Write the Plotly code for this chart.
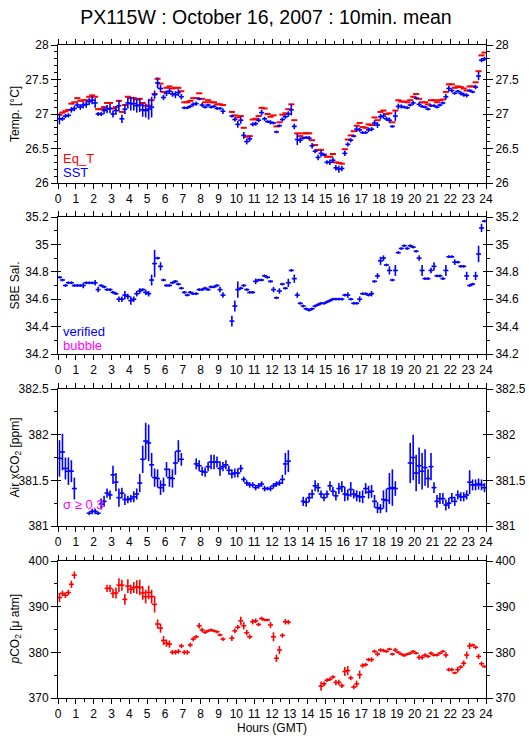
import plotly.graph_objects as go

# ---------------- data (10-min means, 144 slots per day) ----------------
N = None
HOURS = [i / 6 + 1 / 12 for i in range(144)]
HOUR_TICKS = list(range(25))

SST = [
    26.93, 26.93, 26.97, 26.98, 27.06, 27.08,
    27.13, 27.10, 27.13, 27.14, 27.18, 27.20,
    27.16, 27.00, 27.00, 27.05, 27.07, 27.08,
    27.00, 27.05, 27.12, 26.93, 27.07, 27.16,
    27.15, 27.15, 27.12, 27.13, 27.06, 27.05,
    27.07, 27.10, 27.28, 27.45, 27.37, 27.24,
    27.30, 27.33, 27.29, 27.28, 27.31, 27.25,
    27.09, 27.09, 27.11, 27.14, 27.15, 27.22,
    27.13, 27.10, 27.13, 27.10, 27.11, 27.08,
    27.08, 27.04, N, N, 26.97, 26.92,
    26.85, 26.91, 26.69, 26.60, 26.64, 26.85,
    26.86, 26.91, 27.02, 26.93, 26.89, 26.88,
    26.87, 26.74, 26.83, 26.92, 26.96, 27.00,
    27.06, 26.82, 26.63, 26.62, 26.65, 26.66,
    26.65, 26.54, 26.46, 26.37, 26.43, 26.41,
    26.30, 26.30, 26.33, 26.22, 26.20, 26.21,
    26.43, 26.56, 26.62, 26.68, 26.78, 26.77,
    26.73, 26.73, 26.77, 26.78, 26.87, 26.84,
    26.96, 26.97, 26.93, 26.91, 26.82, 26.97,
    27.11, 27.11, 27.10, 27.09, 27.13, 27.16,
    27.23, 27.14, 27.11, 27.10, 27.07, 27.12,
    27.12, 27.10, 27.13, 27.16, 27.25, 27.37,
    27.34, 27.30, 27.33, 27.30, 27.28, 27.27,
    27.34, 27.32, 27.39, 27.55, 27.78, 27.80,
]
SST_SD = [
    0.08, 0.03, 0.03, 0.03, 0.04, 0.04,
    0.04, 0.04, 0.05, 0.05, 0.05, 0.06,
    0.07, 0.03, 0.03, 0.05, 0.06, 0.07,
    0.05, 0.06, 0.08, 0.06, 0.07, 0.08,
    0.10, 0.10, 0.10, 0.10, 0.10, 0.10,
    0.15, 0.15, 0.06, 0.08, 0.05, 0.04,
    0.04, 0.04, 0.04, 0.05, 0.05, 0.04,
    0.02, 0.02, 0.02, 0.03, 0.03, 0.02,
    0.03, 0.02, 0.02, 0.02, 0.02, 0.02,
    0.02, 0.04, N, N, 0.02, 0.03,
    0.05, 0.05, 0.05, 0.04, 0.04, 0.03,
    0.03, 0.03, 0.04, 0.03, 0.02, 0.03,
    0.02, 0.02, 0.02, 0.03, 0.03, 0.04,
    0.08, 0.04, 0.08, 0.04, 0.02, 0.02,
    0.03, 0.04, 0.03, 0.04, 0.05, 0.02,
    0.03, 0.04, 0.04, 0.04, 0.05, 0.04,
    0.04, 0.03, 0.03, 0.02, 0.04, 0.03,
    0.02, 0.02, 0.03, 0.03, 0.04, 0.04,
    0.04, 0.04, 0.03, 0.04, 0.02, 0.07,
    0.04, 0.03, 0.02, 0.02, 0.02, 0.03,
    0.02, 0.03, 0.02, 0.02, 0.02, 0.02,
    0.02, 0.02, 0.02, 0.02, 0.04, 0.04,
    0.03, 0.02, 0.02, 0.03, 0.03, 0.03,
    0.02, 0.02, 0.03, 0.06, 0.03, 0.03,
]
EQ_T = [
    26.99, 27.02, 27.04, 27.06, 27.15, 27.17,
    27.23, 27.19, 27.20, 27.20, 27.25, 27.27,
    27.25, 27.07, 27.07, 27.10, 27.16, 27.16,
    27.08, 27.10, 27.19, 27.03, 27.13, 27.25,
    27.23, 27.23, 27.21, 27.22, 27.16, 27.12,
    27.12, 27.20, 27.29, 27.51, 27.44, 27.32,
    27.38, 27.40, 27.37, 27.38, 27.38, 27.33,
    27.17, 27.17, 27.19, 27.23, 27.23, 27.30,
    27.22, 27.17, 27.20, 27.17, 27.17, 27.14,
    27.14, 27.13, N, N, 27.03, 26.98,
    26.95, 26.97, 26.80, 26.67, 26.68, 26.92,
    26.93, 26.97, 27.09, 27.08, 27.00, 26.96,
    26.98, 26.82, 26.88, 26.99, 27.01, 27.07,
    27.14, 26.91, 26.72, 26.68, 26.72, 26.72,
    26.72, 26.62, 26.55, 26.48, 26.48, 26.41,
    26.38, 26.38, 26.42, 26.30, 26.29, 26.28,
    26.49, 26.63, 26.69, 26.75, 26.83, 26.87,
    26.81, 26.80, 26.85, 26.84, 26.95, 26.91,
    27.03, 27.05, 27.00, 27.01, 26.88, 27.05,
    27.20, 27.18, 27.18, 27.17, 27.20, 27.25,
    27.29, 27.22, 27.17, 27.17, 27.14, 27.20,
    27.20, 27.17, 27.20, 27.21, 27.32, 27.43,
    27.43, 27.38, 27.40, 27.39, 27.37, 27.34,
    27.40, 27.40, 27.46, 27.62, 27.85, 27.89,
]
SAL = [
    34.76, 34.74, 34.70, 34.72, 34.72, 34.70,
    34.70, 34.70, 34.70, 34.72, 34.72, 34.72,
    34.72, 34.67, 34.70, 34.69, 34.67, 34.67,
    34.65, 34.64, 34.60, 34.60, 34.63, 34.62,
    34.59, 34.60, 34.64, 34.66, 34.67, 34.65,
    34.64, 34.74, 34.86, 34.90, 34.84, 34.74,
    34.70, 34.70, 34.72, 34.73, 34.71, 34.68,
    34.65, 34.63, 34.65, 34.64, 34.64, 34.67,
    34.67, 34.68, 34.67, 34.69, 34.69, 34.70,
    34.67, 34.63, N, N, 34.44, 34.55,
    34.67, 34.68, 34.70, 34.67, 34.65, 34.65,
    34.73, 34.74, 34.74, 34.77, 34.76, 34.73,
    34.67, 34.61, 34.66, 34.71, 34.68, 34.72,
    34.81, 34.75, 34.63, 34.57, 34.55, 34.53,
    34.52, 34.53, 34.55, 34.56, 34.57, 34.57,
    34.58, 34.59, 34.60, 34.60, 34.60, 34.60,
    34.63, 34.63, 34.60, 34.57, 34.57, 34.60,
    34.64, 34.64, 34.63, 34.64, 34.73, 34.77,
    34.88, 34.90, 34.85, 34.81, 34.74, 34.81,
    34.94, 34.97, 34.99, 34.97, 34.99, 34.98,
    34.95, 34.90, 34.81, 34.75, 34.75, 34.81,
    34.84, 34.77, 34.77, 34.75, 34.81, 34.91,
    34.91, 34.87, 34.87, 34.84, 34.84, 34.77,
    34.70, 34.71, 34.77, 34.93, 35.12, 35.17,
]
SAL_SD = [
    0.01, 0.01, 0.01, 0.01, 0.01, 0.01,
    0.01, 0.01, 0.02, 0.01, 0.01, 0.01,
    0.02, 0.02, 0.01, 0.01, 0.01, 0.01,
    0.01, 0.01, 0.02, 0.02, 0.03, 0.02,
    0.03, 0.02, 0.02, 0.02, 0.01, 0.02,
    0.02, 0.04, 0.10, 0.01, 0.03, 0.01,
    0.01, 0.01, 0.01, 0.01, 0.01, 0.01,
    0.01, 0.01, 0.01, 0.01, 0.01, 0.01,
    0.01, 0.01, 0.01, 0.01, 0.01, 0.01,
    0.02, 0.02, N, N, 0.04, 0.04,
    0.06, 0.01, 0.01, 0.01, 0.01, 0.01,
    0.02, 0.01, 0.01, 0.01, 0.01, 0.01,
    0.02, 0.01, 0.02, 0.01, 0.01, 0.03,
    0.01, 0.03, 0.02, 0.01, 0.01, 0.01,
    0.01, 0.01, 0.01, 0.01, 0.01, 0.01,
    0.01, 0.01, 0.01, 0.01, 0.01, 0.01,
    0.01, 0.02, 0.01, 0.01, 0.01, 0.02,
    0.01, 0.01, 0.01, 0.02, 0.01, 0.02,
    0.03, 0.02, 0.01, 0.03, 0.01, 0.04,
    0.01, 0.01, 0.01, 0.01, 0.01, 0.01,
    0.01, 0.02, 0.04, 0.01, 0.01, 0.02,
    0.03, 0.01, 0.01, 0.01, 0.04, 0.01,
    0.01, 0.02, 0.01, 0.01, 0.01, 0.03,
    0.01, 0.01, 0.03, 0.06, 0.03, 0.01,
]
XCO2 = [
    381.74, 381.81, 381.63, 381.60, 381.60, 381.41,
    N, N, N, N, 381.14, 381.16,
    381.16, 381.14, 381.24, 381.27, 381.36, 381.34,
    381.56, 381.48, 381.31, 381.36, 381.29, 381.29,
    381.30, 381.32, 381.35, 381.47, 381.73, 381.93,
    381.91, 381.67, 381.53, 381.52, 381.42, 381.45,
    381.62, 381.53, 381.52, 381.69, 381.82, 381.73,
    N, N, N, N, 381.68, 381.66,
    381.60, 381.59, 381.65, 381.70, 381.70, 381.70,
    381.63, 381.65, 381.67, 381.61, 381.57, 381.58,
    381.58, 381.63, 381.51, 381.47, 381.45, 381.45,
    381.42, 381.44, 381.46, 381.41, 381.41, 381.41,
    381.44, 381.46, 381.47, 381.51, 381.68, 381.71,
    N, N, N, N, 381.27, 381.26,
    381.31, 381.35, 381.44, 381.42, 381.35, 381.31,
    381.35, 381.44, 381.38, 381.33, 381.41, 381.43,
    381.35, 381.34, 381.40, 381.35, 381.33, 381.32,
    381.32, 381.41, 381.37, 381.38, 381.27, 381.20,
    381.19, 381.29, 381.28, 381.41, 381.42, 381.41,
    N, N, N, N, 381.69, 381.75,
    381.58, 381.66, 381.60, 381.64, 381.52, 381.65,
    381.42, 381.27, 381.30, 381.30, 381.23, 381.25,
    381.31, 381.27, 381.34, 381.32, 381.32, 381.34,
    381.48, 381.45, 381.45, 381.46, 381.45, 381.42,
]
XCO2_SD = [
    0.20, 0.20, 0.12, 0.15, 0.12, 0.12,
    N, N, N, N, 0.02, 0.03,
    0.03, 0.02, 0.06, 0.06, 0.05, 0.05,
    0.10, 0.10, 0.10, 0.06, 0.06, 0.04,
    0.04, 0.06, 0.06, 0.10, 0.15, 0.20,
    0.20, 0.13, 0.10, 0.10, 0.08, 0.08,
    0.08, 0.10, 0.10, 0.13, 0.12, 0.07,
    N, N, N, N, 0.06, 0.06,
    0.05, 0.05, 0.05, 0.08, 0.08, 0.06,
    0.08, 0.05, 0.05, 0.05, 0.05, 0.05,
    0.05, 0.04, 0.03, 0.03, 0.03, 0.03,
    0.03, 0.03, 0.03, 0.03, 0.02, 0.03,
    0.03, 0.03, 0.03, 0.05, 0.12, 0.12,
    N, N, N, N, 0.05, 0.05,
    0.05, 0.05, 0.06, 0.05, 0.04, 0.04,
    0.04, 0.05, 0.05, 0.05, 0.06, 0.06,
    0.08, 0.06, 0.08, 0.05, 0.06, 0.06,
    0.07, 0.06, 0.07, 0.07, 0.07, 0.06,
    0.05, 0.10, 0.13, 0.17, 0.20, 0.08,
    N, N, N, N, 0.22, 0.25,
    0.20, 0.20, 0.20, 0.20, 0.10, 0.15,
    0.06, 0.07, 0.06, 0.06, 0.06, 0.06,
    0.05, 0.05, 0.05, 0.05, 0.05, 0.05,
    0.13, 0.06, 0.06, 0.06, 0.06, 0.05,
]
PCO2 = [
    392.0, 392.9, 392.5, 393.1, 394.9, 396.9,
    N, N, N, N, N, N,
    N, N, N, N, 394.0, 394.0,
    392.9, 393.0, 394.7, 394.7, 391.6, 394.5,
    393.8, 394.2, 394.3, 394.2, 393.0, 392.2,
    393.1, 392.2, 390.5, 386.2, 385.3, 382.6,
    382.0, 381.8, 380.0, 380.0, 380.2, 381.4,
    380.0, 380.0, 381.6, 382.9, 383.4, 385.8,
    384.9, 384.4, 384.7, 384.9, 384.7, 384.5,
    383.8, 382.9, N, N, 383.1, 384.7,
    385.5, 386.9, 385.8, 384.3, 383.4, 386.7,
    386.9, 386.1, 387.4, 387.1, 387.1, 386.0,
    383.4, 378.7, 380.5, 383.7, 386.7, 386.6,
    N, N, N, N, N, N,
    N, N, N, N, 372.6, 373.1,
    373.9, 374.1, 374.6, 373.4, 373.4, 372.7,
    375.8, 376.0, 374.4, 372.4, 373.1, 375.1,
    377.1, 377.3, 378.4, 378.4, 380.2, 379.6,
    380.5, 380.4, 380.2, 380.7, 379.6, 380.5,
    380.0, 379.6, 379.3, 379.6, 379.8, 380.2,
    379.8, 378.9, 378.9, 379.4, 379.1, 379.8,
    379.4, 379.4, 379.8, 380.2, 379.4, 376.2,
    376.2, 375.5, 376.2, 376.8, 377.6, 379.4,
    381.4, 381.6, 381.1, 379.1, 377.5, 376.9,
]
PCO2_SD = [
    1.0, 0.6, 0.6, 0.6, 0.8, 0.8,
    N, N, N, N, N, N,
    N, N, N, N, 0.8, 0.8,
    1.0, 1.2, 1.5, 1.2, 1.2, 1.5,
    1.0, 1.2, 1.5, 1.7, 1.5, 1.5,
    1.5, 1.5, 1.8, 1.0, 1.0, 1.0,
    0.8, 0.8, 0.5, 0.5, 0.5, 0.5,
    0.5, 0.5, 0.5, 0.5, 0.4, 0.6,
    0.5, 0.4, 0.3, 0.3, 0.3, 0.3,
    0.3, 0.4, N, N, 0.6, 0.5,
    0.5, 0.9, 0.8, 0.6, 0.5, 0.6,
    0.5, 0.4, 0.4, 0.3, 0.3, 0.7,
    1.0, 0.8, 0.9, 0.5, 0.6, 0.5,
    N, N, N, N, N, N,
    N, N, N, N, 1.0, 0.5,
    0.4, 0.4, 0.4, 0.6, 0.6, 0.5,
    1.0, 1.0, 0.5, 0.5, 0.7, 0.9,
    0.5, 0.4, 0.4, 0.5, 0.4, 0.5,
    0.4, 0.4, 0.3, 0.3, 0.3, 0.5,
    0.3, 0.3, 0.3, 0.3, 0.3, 0.3,
    0.3, 0.5, 0.5, 0.4, 0.3, 0.4,
    0.3, 0.3, 0.3, 0.3, 0.6, 0.4,
    0.4, 0.3, 0.6, 0.4, 0.6, 0.8,
    0.7, 0.3, 0.4, 0.6, 0.5, 0.3,
]

BLUE = "#0000ff"
RED = "#ff0000"
MAGENTA = "#ff00ff"
FONT = "Liberation Sans, Arial, Helvetica, sans-serif"

W, H = 529, 739
L, R = 58, 486
# panel pixel extents (top, bottom)
PANELS = [(45, 183), (217, 354), (389, 526), (561, 698)]
RANGES = [(26, 28), (34.2, 35.2), (381, 382.5), (370, 400)]
DTICK = [0.5, 0.2, 0.5, 10]
MINOR = [0.1, 0.1, 0.25, 5]


def ypaper(px):
    return 1 - px / H


def xpaper(px):
    return (px - L) / (R - L)


fig = go.Figure()


def cross(x, y, err, color, k, xhalf=0.14, thick=1.6):
    fig.add_trace(go.Scatter(
        x=x, y=y, mode="markers",
        marker=dict(size=1, color=color),
        error_y=dict(type="data", array=err, visible=err is not None, color=color,
                     thickness=thick, width=0),
        error_x=dict(type="constant", value=xhalf, visible=True, color=color,
                     thickness=thick, width=0),
        xaxis="x" if k == 1 else f"x{k}", yaxis="y" if k == 1 else f"y{k}",
        showlegend=False, hoverinfo="skip", cliponaxis=True,
    ))


cross(HOURS, EQ_T, None, RED, 1, xhalf=0.17, thick=2)
cross(HOURS, SST, SST_SD, BLUE, 1)
cross(HOURS, SAL, SAL_SD, BLUE, 2)
cross(HOURS, XCO2, XCO2_SD, BLUE, 3)
cross(HOURS, PCO2, PCO2_SD, RED, 4)

# dummy traces so the overlay axes (right labels, inner tick stubs) are drawn
for k in range(1, 5):
    xa = "x" if k == 1 else f"x{k}"
    for ya in (f"y{k + 4}", f"y{k + 8}"):
        fig.add_trace(go.Scatter(x=[None], y=[None], xaxis=xa, yaxis=ya,
                                 showlegend=False, hoverinfo="skip"))

layout = dict(
    width=W, height=H,
    margin=dict(l=L, r=W - R, t=0, b=0, autoexpand=False),
    paper_bgcolor="white", plot_bgcolor="white",
    font=dict(family=FONT, size=12, color="black"),
    showlegend=False,
    title=dict(text="PX115W : October 16, 2007 : 10min. mean",
               x=266 / W, xanchor="center", xref="container",
               y=1 - 17 / H, yanchor="middle", yref="container",
               font=dict(family=FONT, size=19.5, color="black")),
)

for k in range(1, 5):
    top, bot = PANELS[k - 1]
    dom = [ypaper(bot), ypaper(top)]
    xs = "" if k == 1 else str(k)
    layout[f"xaxis{xs}"] = dict(
        domain=[0, 1], range=[0, 24], anchor="y" + xs,
        tickmode="array", tickvals=HOUR_TICKS, ticktext=[str(v) for v in HOUR_TICKS],
        ticks="outside", ticklen=5, tickwidth=1, tickcolor="black",
        minor=dict(dtick=0.5, tick0=0, ticks="outside", ticklen=3, tickwidth=1, tickcolor="black"),
        showline=True, linecolor="black", linewidth=1, mirror="ticks",
        showgrid=False, zeroline=False, tickfont=dict(size=12),
    )
    lo, hi = RANGES[k - 1]
    common = dict(
        domain=dom, range=[lo, hi], anchor="x" + xs,
        tick0=lo, dtick=DTICK[k - 1],
        ticks="outside", ticklen=6, tickwidth=1, tickcolor="black",
        minor=dict(dtick=MINOR[k - 1], tick0=lo, ticks="outside", ticklen=3,
                   tickwidth=1, tickcolor="black"),
        showgrid=False, zeroline=False, tickfont=dict(size=12),
    )
    layout[f"yaxis{xs}"] = dict(common, showline=True, linecolor="black", linewidth=1,
                                mirror=False, side="left")
    layout[f"yaxis{k + 4}"] = dict(common, overlaying="y" + xs, side="right",
                                   showline=True, linecolor="black", linewidth=1)
    # short inner stubs so the major ticks cross the frame
    layout[f"yaxis{k + 8}"] = dict(
        domain=dom, range=[lo, hi], anchor="x" + xs, overlaying="y" + xs, side="left",
        tick0=lo, dtick=DTICK[k - 1], ticks="inside", ticklen=3, tickwidth=1,
        tickcolor="black", mirror="ticks", showline=False, showticklabels=False,
        showgrid=False, zeroline=False,
    )

fig.update_layout(**layout)

# y-axis titles
ytitles = ["Temp. [°C]", "SBE Sal.", "Air xCO<sub>2</sub> [ppm]", "<i>p</i>CO<sub>2</sub> [μ atm]"]
for (top, bot), t in zip(PANELS, ytitles):
    fig.add_annotation(text=t, textangle=-90, xref="paper", yref="paper",
                       x=xpaper(15), y=ypaper((top + bot) / 2), xanchor="center",
                       yanchor="middle", showarrow=False, font=dict(size=12))

fig.add_annotation(text="Hours (GMT)", xref="paper", yref="paper", x=xpaper(272),
                   y=ypaper(728), xanchor="center", yanchor="middle", showarrow=False,
                   font=dict(size=12))

# in-plot labels
labels = [("Eq_T", RED, 158), ("SST", BLUE, 173), ("verified", BLUE, 332),
          ("bubble", MAGENTA, 345), ("σ ≥ 0.3", MAGENTA, 504)]
for t, c, yp in labels:
    fig.add_annotation(text=t, xref="paper", yref="paper", x=xpaper(61), y=ypaper(yp),
                       xanchor="left", yanchor="middle", showarrow=False,
                       font=dict(size=13, color=c))

fig.write_html("out.html", config={"displayModeBar": False},
               post_script="document.body.style.margin='0';")
